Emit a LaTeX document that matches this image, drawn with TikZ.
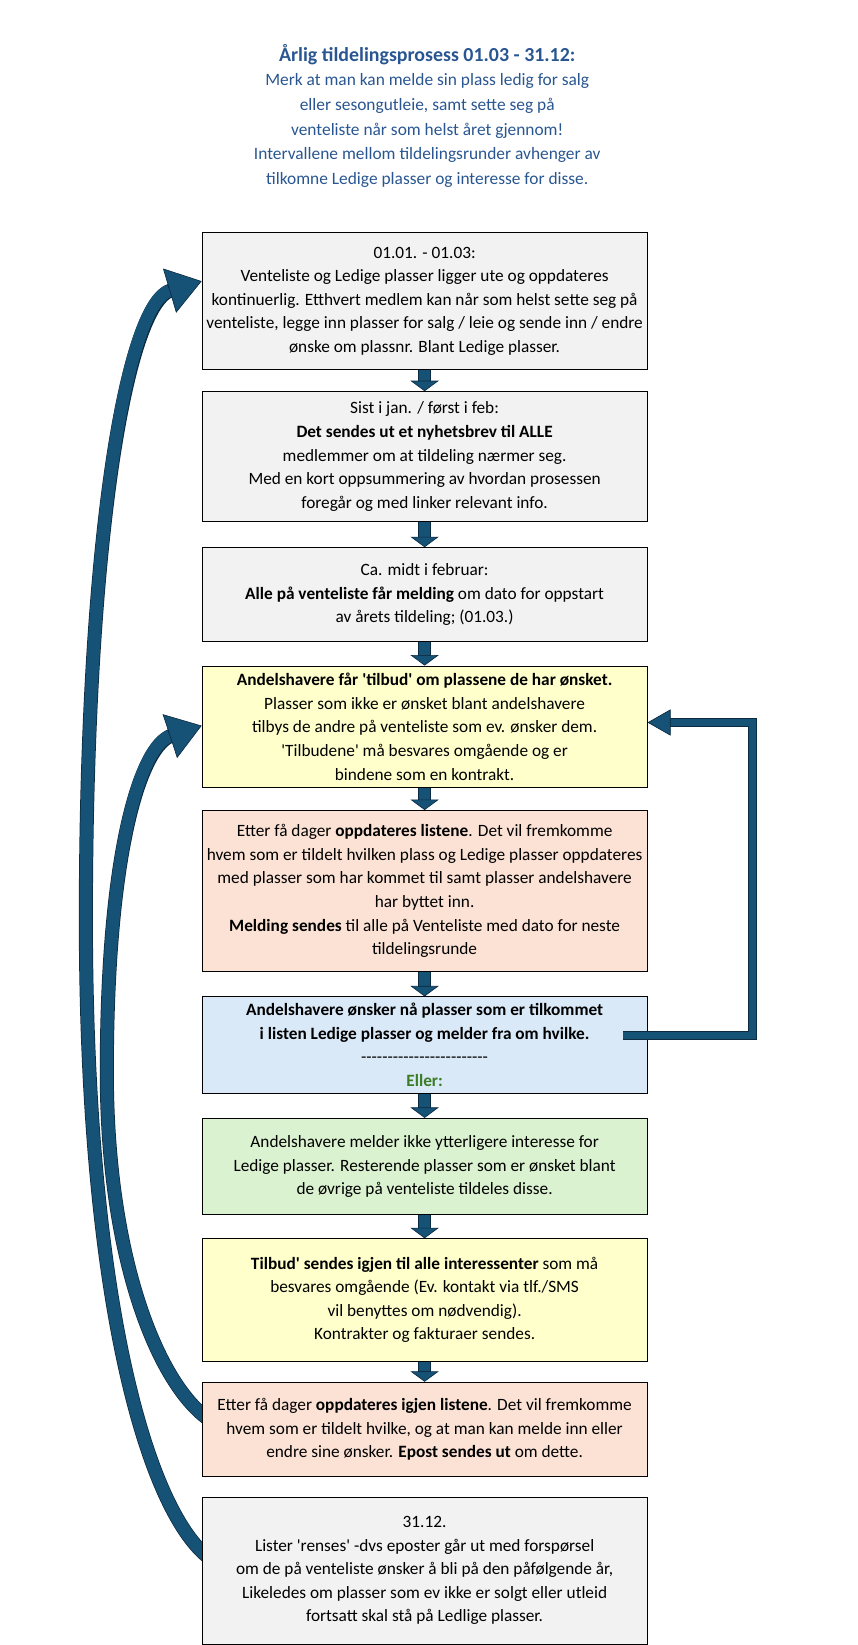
\documentclass[tikz,border=0pt]{standalone}
\usepackage{fontspec}
\setmainfont{Carlito}[Ligatures=TeXOff]
\usepackage{xcolor}
\usepackage{tikz}
\usetikzlibrary{arrows.meta, positioning, backgrounds, calc}
\definecolor{greycolor}{RGB}{242, 242, 242}
\definecolor{offercolor}{RGB}{255, 255, 204}
\definecolor{updatecolor}{RGB}{251, 226, 213}
\definecolor{wishcolor}{RGB}{218, 233, 248}
\definecolor{nowishcolor}{RGB}{218, 242, 208}
\definecolor{ellercolor}{RGB}{59, 125, 35}
\definecolor{titlecolor}{RGB}{41, 86, 145}
\definecolor{arrowfill}{RGB}{22, 82, 118}
\definecolor{arrowline}{RGB}{12, 42, 64}

\tikzset{
  stepbox/.style={draw=black, line width=0.8pt, minimum width=425pt, inner sep=0pt, align=center, font=\fontsize{16.5}{22.5}\selectfont},
  downarrow/.style={draw=arrowfill, line width=11pt, -{Triangle[length=10pt, width=27pt, fill=arrowfill, color=arrowline, line width=0.6pt]}, preaction={draw=arrowline, line width=12.4pt, arrows=-, shorten >=8pt}},
  bendarrow/.style={draw=arrowfill, line width=12pt, -{Triangle[length=32pt, width=44pt, fill=arrowfill, color=arrowline, line width=0.6pt]}, preaction={draw=arrowline, line width=13.4pt, arrows=-, shorten >=30pt}},
  looparrow/.style={draw=arrowfill, line width=7pt, line join=miter, -{Triangle[length=22pt, width=25pt, fill=arrowfill, color=arrowline, line width=0.6pt]}, preaction={draw=arrowline, line width=8.4pt, line join=miter, arrows=-, shorten >=20pt}}
}

\begin{document}
\begin{tikzpicture}[x=1pt, y=-1pt]
    \useasboundingbox (0, 0) rectangle (818.5, 1571);

    % Title
    \node[font=\fontsize{16.6}{23.5}\selectfont, text=titlecolor, align=center] (title) at (408, 110.5) {{\fontsize{19}{23.5}\selectfont\bfseries Årlig tildelingsprosess 01.03 - 31.12:}\\ Merk at man kan melde sin plass ledig for salg\\ eller sesongutleie, samt sette seg på\\ venteliste når som helst året gjennom!\\ Intervallene mellom tildelingsrunder avhenger av\\ tilkomne Ledige plasser og interesse for disse.};

    % Steps
    \node[stepbox, fill=greycolor, minimum height=131pt] (b1) at (405.5, 287.5) {01.01. - 01.03:\\ Venteliste og Ledige plasser ligger ute og oppdateres\\ kontinuerlig. Etthvert medlem kan når som helst sette seg på\\ venteliste, legge inn plasser for salg / leie og sende inn / endre\\ ønske om plassnr. Blant Ledige plasser.};
    \node[stepbox, fill=greycolor, minimum height=124pt] (b2) at (405.5, 436) {Sist i jan. / først i feb:\\ \textbf{Det sendes ut et nyhetsbrev til ALLE}\\ medlemmer om at tildeling nærmer seg.\\ Med en kort oppsummering av hvordan prosessen\\ foregår og med linker relevant info.};
    \node[stepbox, fill=greycolor, minimum height=90pt] (b3) at (405.5, 568) {Ca. midt i februar:\\ \textbf{Alle på venteliste får melding} om dato for oppstart\\ av årets tildeling; (01.03.)};
    \node[stepbox, fill=offercolor, minimum height=116pt] (b4) at (405.5, 694) {\textbf{Andelshavere får 'tilbud' om plassene de har ønsket.}\\ Plasser som ikke er ønsket blant andelshavere\\ tilbys de andre på venteliste som ev. ønsker dem.\\ 'Tilbudene' må besvares omgående og er\\ bindene som en kontrakt.};
    \node[stepbox, fill=updatecolor, minimum height=154pt] (b5) at (405.5, 851) {Etter få dager \textbf{oppdateres listene}. Det vil fremkomme\\ hvem som er tildelt hvilken plass og Ledige plasser oppdateres\\ med plasser som har kommet til samt plasser andelshavere\\ har byttet inn.\\ \textbf{Melding sendes} til alle på Venteliste med dato for neste\\ tildelingsrunde};
    \node[stepbox, fill=wishcolor, minimum height=92pt] (b6) at (405.5, 998) {\textbf{Andelshavere ønsker nå plasser som er tilkommet}\\ \textbf{i listen Ledige plasser og melder fra om hvilke.}\\ ------------------------\\ \textcolor{ellercolor}{\textbf{Eller:}}};
    \node[stepbox, fill=nowishcolor, minimum height=92pt] (b7) at (405.5, 1114) {Andelshavere melder ikke ytterligere interesse for\\ Ledige plasser. Resterende plasser som er ønsket blant\\ de øvrige på venteliste tildeles disse.};
    \node[stepbox, fill=offercolor, minimum height=117pt] (b8) at (405.5, 1241.5) {\textbf{Tilbud' sendes igjen til alle interessenter} som må\\ besvares omgående (Ev. kontakt via tlf./SMS\\ vil benyttes om nødvendig).\\ Kontrakter og fakturaer sendes.};
    \node[stepbox, fill=updatecolor, minimum height=90pt] (b9) at (405.5, 1365) {Etter få dager \textbf{oppdateres igjen listene}. Det vil fremkomme\\ hvem som er tildelt hvilke, og at man kan melde inn eller\\ endre sine ønsker. \textbf{Epost sendes ut} om dette.};
    \node[stepbox, fill=greycolor, minimum height=140pt] (b10) at (405.5, 1500) {31.12.\\ Lister 'renses' -dvs eposter går ut med forspørsel\\ om de på venteliste ønsker å bli på den påfølgende år,\\ Likeledes om plasser som ev ikke er solgt eller utleid\\ fortsatt skal stå på Ledlige plasser.};

    % Flow down
    \draw[downarrow] (b1.south) -- (b2.north);
    \draw[downarrow] (b2.south) -- (b3.north);
    \draw[downarrow] (b3.south) -- (b4.north);
    \draw[downarrow] (b4.south) -- (b5.north);
    \draw[downarrow] (b5.south) -- (b6.north);
    \draw[downarrow] (b6.south) -- (b7.north);
    \draw[downarrow] (b7.south) -- (b8.north);
    \draw[downarrow] (b8.south) -- (b9.north);

    % New round of offers
    \draw[looparrow] ([xshift=-23pt, yshift=9pt]b6.east) -- ++(123, 0) |- ([yshift=4pt]b4.east);

    % Back to start
    \begin{scope}[on background layer]
        \draw[bendarrow] ([xshift=6pt, yshift=13pt]b10.west) .. controls (140, 1440) and (82, 1240) .. (82, 877) .. controls (82, 520) and (120, 290) .. ([yshift=19pt]b1.west);
        \draw[bendarrow] ([xshift=6pt, yshift=10pt]b9.west) .. controls (150, 1320) and (102, 1200) .. (102, 1024) .. controls (102, 810) and (135, 712) .. ([yshift=1pt]b4.west);
    \end{scope}

\end{tikzpicture}
\end{document}
